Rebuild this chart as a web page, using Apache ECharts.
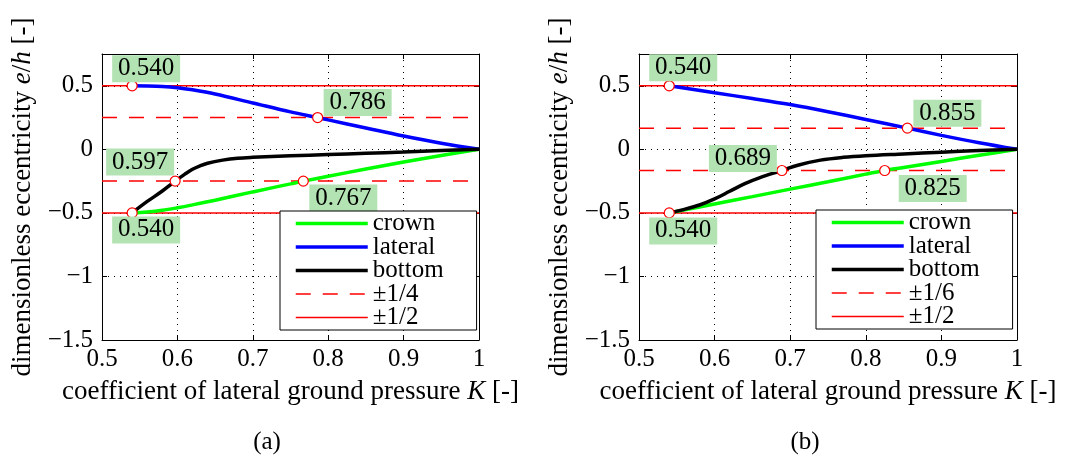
<!DOCTYPE html>
<html>
<head>
<meta charset="utf-8">
<script src="https://cdn.jsdelivr.net/npm/echarts@6/dist/echarts.min.js"></script>
<style>
  html, body { margin: 0; padding: 0; background: #fff; }
  #chart { width: 1076px; height: 458px; }
</style>
</head>
<body>
<div id="chart"></div>
<script>
// ---- axis ticks ----
const X_TICKS = [0.5, 0.6, 0.7, 0.8, 0.9, 1];
const Y_TICKS = [-1.5, -1, -0.5, 0, 0.5];

// ---- panel (a): eccentricity e/h versus K ----
const K_A_CROWN   = [0.54, 0.56, 0.58, 0.60, 0.62, 0.65, 0.70, 0.75, 0.767, 0.80, 0.85, 0.90, 0.95, 1.00];
const E_A_CROWN   = [-0.5, -0.493, -0.480, -0.460, -0.437, -0.400, -0.335, -0.272, -0.25, -0.212, -0.155, -0.100, -0.048, 0];
const K_A_LATERAL = [0.54, 0.56, 0.58, 0.60, 0.62, 0.65, 0.70, 0.75, 0.786, 0.80, 0.85, 0.90, 0.95, 1.00];
const E_A_LATERAL = [0.5, 0.499, 0.495, 0.485, 0.468, 0.435, 0.365, 0.295, 0.25, 0.232, 0.168, 0.105, 0.048, 0];
const K_A_BOTTOM  = [0.54, 0.56, 0.58, 0.597, 0.61, 0.62, 0.63, 0.64, 0.66, 0.68, 0.70, 0.75, 0.80, 0.85, 0.90, 0.95, 1.00];
const E_A_BOTTOM  = [-0.5, -0.41, -0.328, -0.25, -0.195, -0.157, -0.130, -0.109, -0.085, -0.070, -0.063, -0.051, -0.041, -0.031, -0.021, -0.010, 0];
const LIMIT_A = 0.25;                 // ±1/4
const MARK_A_K = [0.540, 0.540, 0.786, 0.597, 0.767];
const MARK_A_E = [0.5, -0.5, 0.25, -0.25, -0.25];

// ---- panel (b) ----
const K_B_CROWN   = [0.54, 0.60, 0.65, 0.70, 0.75, 0.80, 0.825, 0.85, 0.90, 0.95, 1.00];
const E_B_CROWN   = [-0.5, -0.430, -0.372, -0.313, -0.255, -0.195, -0.1667, -0.143, -0.095, -0.047, 0];
const K_B_LATERAL = [0.54, 0.60, 0.65, 0.70, 0.75, 0.80, 0.855, 0.90, 0.95, 1.00];
const E_B_LATERAL = [0.5, 0.445, 0.400, 0.352, 0.296, 0.235, 0.1667, 0.110, 0.052, 0];
const K_B_BOTTOM  = [0.54, 0.56, 0.58, 0.60, 0.62, 0.64, 0.66, 0.689, 0.71, 0.74, 0.77, 0.80, 0.85, 0.90, 0.95, 1.00];
const E_B_BOTTOM  = [-0.5, -0.472, -0.438, -0.390, -0.330, -0.270, -0.222, -0.1667, -0.125, -0.085, -0.063, -0.050, -0.036, -0.022, -0.010, 0];
const LIMIT_B = 1 / 6;                // ±1/6
const MARK_B_K = [0.540, 0.540, 0.855, 0.689, 0.825];
const MARK_B_E = [0.5, -0.5, 0.1667, -0.1667, -0.1667];

const HALF = 0.5;                     // ±1/2

// ---- styling ----
const FONT = '"Liberation Serif", "Times New Roman", serif';
const FS = 25;
const FS_NAME = 27;
const GREEN = '#00ff00', BLUE = '#0000ff', BLACK = '#000000', RED = '#ff0000';
const DASH = [15, 12];
// label box offsets (px) from each marker centre
const OFFS_A = [[14, -17], [14, 17], [40, -15], [-35, -19], [40, 17]];
const OFFS_B = [[14, -18], [14, 18], [40, -15], [-39, -12], [48, 18]];

const pairs = (xs, ys) => xs.map((x, i) => [x, ys[i]]);

function tickLabelY(v) {
  if (Math.abs(v - 0.75) < 1e-9) return '';
  if (v < 0) return '\u2212' + String(Math.abs(v));
  return String(v);
}

const grids = [
  { left: 102, right: 597, top: 54, bottom: 118 },
  { left: 639, right: 59, top: 54, bottom: 118 }
];

const richName = {
  n: { fontFamily: FONT, fontSize: FS_NAME, color: '#000' },
  i: { fontFamily: FONT, fontSize: FS_NAME, color: '#000', fontStyle: 'italic' }
};

function xAxes(gi) {
  const base = {
    gridIndex: gi, type: 'value', min: 0.5, max: 1, interval: 0.1,
    axisLine: { show: true, onZero: false, lineStyle: { color: '#000', width: 1 } },
    axisTick: { show: true, inside: true, length: 5, lineStyle: { color: '#000' } }
  };
  return [
    Object.assign({}, base, {
      position: 'bottom',
      axisLabel: {
        show: true, margin: 7, color: '#000', fontFamily: FONT, fontSize: FS,
        formatter: v => String(+v.toFixed(1))
      },
      splitLine: { show: true, lineStyle: { color: '#000', type: [1, 5], width: 1 } },
      name: '{n|coefficient of lateral ground pressure }{i|K}{n| [-]}',
      nameLocation: 'middle', nameGap: 38,
      nameTextStyle: { rich: richName }
    }),
    Object.assign({}, base, {
      position: 'top', axisLabel: { show: false }, splitLine: { show: false }
    })
  ];
}

function yAxes(gi) {
  const base = {
    gridIndex: gi, type: 'value', min: -1.5, max: 0.75, interval: 0.5,
    axisLine: { show: true, onZero: false, lineStyle: { color: '#000', width: 1 } },
    axisTick: { show: true, inside: true, length: 5, lineStyle: { color: '#000' } }
  };
  return [
    Object.assign({}, base, {
      position: 'left',
      axisLabel: { show: true, margin: 9, color: '#000', fontFamily: FONT, fontSize: FS, formatter: tickLabelY },
      splitLine: { show: true, lineStyle: { color: '#000', type: [1, 5], width: 1 } },
      name: '{n|dimensionless eccentricity }{i|e}{n|/}{i|h}{n| [-]}',
      nameLocation: 'middle', nameGap: 66, nameRotate: 90,
      nameTextStyle: { rich: richName }
    }),
    Object.assign({}, base, {
      position: 'right', axisLabel: { show: false }, splitLine: { show: false }
    })
  ];
}

function limitSeries(axisIdx, name, y, dashed) {
  const ls = { color: RED, width: 1.5, type: dashed ? DASH : 'solid' };
  return [y, -y].map(v => ({
    type: 'line', name: name, xAxisIndex: axisIdx, yAxisIndex: axisIdx,
    data: [[0.5, v], [1, v]], symbol: 'none', showSymbol: false,
    lineStyle: ls, itemStyle: { color: RED }, z: 2, silent: true, animation: false
  }));
}

function curveSeries(axisIdx, name, ks, es, color) {
  return {
    type: 'line', name: name, xAxisIndex: axisIdx, yAxisIndex: axisIdx,
    data: pairs(ks, es), smooth: 0.35, symbol: 'none', showSymbol: false,
    lineStyle: { color: color, width: 3.5 }, itemStyle: { color: color },
    z: 3, animation: false
  };
}

function markerSeries(axisIdx, ks, es, offs) {
  return {
    type: 'scatter', xAxisIndex: axisIdx, yAxisIndex: axisIdx,
    symbol: 'circle', symbolSize: 10,
    itemStyle: { color: '#fff', borderColor: RED, borderWidth: 1.2, opacity: 1 },
    z: 5, animation: false, silent: true,
    data: ks.map((k, i) => ({
      value: [k, es[i]],
      label: {
        show: true, position: 'inside', offset: offs[i],
        formatter: k.toFixed(3),
        fontFamily: FONT, fontSize: FS, color: '#000',
        width: 62, align: 'center',
        backgroundColor: '#b3e3b3', padding: [2, 3, 0, 3]
      }
    }))
  };
}

function legend(left, top, limName) {
  return {
    orient: 'vertical', left: left, top: top,
    data: ['crown', 'lateral', 'bottom', limName, '±1/2'],
    itemWidth: 72, itemHeight: 14, itemGap: -1.5,
    padding: [0, 33, 0, 14],
    backgroundColor: '#fff', borderColor: '#000', borderWidth: 1, borderRadius: 0,
    itemStyle: { opacity: 0, borderWidth: 0 },
    lineStyle: { width: 'inherit', type: 'inherit' },
    textStyle: { fontFamily: FONT, fontSize: FS, color: '#000' },
    selectedMode: false, z: 6
  };
}

const series = [].concat(
  limitSeries(0, '±1/2', HALF, false),
  limitSeries(0, '±1/4', LIMIT_A, true),
  [curveSeries(0, 'crown', K_A_CROWN, E_A_CROWN, GREEN),
   curveSeries(0, 'lateral', K_A_LATERAL, E_A_LATERAL, BLUE),
   curveSeries(0, 'bottom', K_A_BOTTOM, E_A_BOTTOM, BLACK),
   markerSeries(0, MARK_A_K, MARK_A_E, OFFS_A)],
  limitSeries(2, '±1/2', HALF, false),
  limitSeries(2, '±1/6', LIMIT_B, true),
  [curveSeries(2, 'crown', K_B_CROWN, E_B_CROWN, GREEN),
   curveSeries(2, 'lateral', K_B_LATERAL, E_B_LATERAL, BLUE),
   curveSeries(2, 'bottom', K_B_BOTTOM, E_B_BOTTOM, BLACK),
   markerSeries(2, MARK_B_K, MARK_B_E, OFFS_B)]
);

const chart = echarts.init(document.getElementById('chart'), null, { renderer: 'canvas' });
chart.setOption({
  backgroundColor: '#fff',
  animation: false,
  title: [
    { text: '(a)', left: 262, top: 425, textAlign: 'center',
      textStyle: { fontFamily: FONT, fontSize: FS, fontWeight: 'normal', color: '#000' } },
    { text: '(b)', left: 800, top: 425, textAlign: 'center',
      textStyle: { fontFamily: FONT, fontSize: FS, fontWeight: 'normal', color: '#000' } }
  ],
  grid: grids,
  xAxis: [].concat(xAxes(0), xAxes(1)),
  yAxis: [].concat(yAxes(0), yAxes(1)),
  legend: [legend(280, 211, '±1/4'), legend(816, 210, '±1/6')],
  series: series
});
</script>
</body>
</html>
